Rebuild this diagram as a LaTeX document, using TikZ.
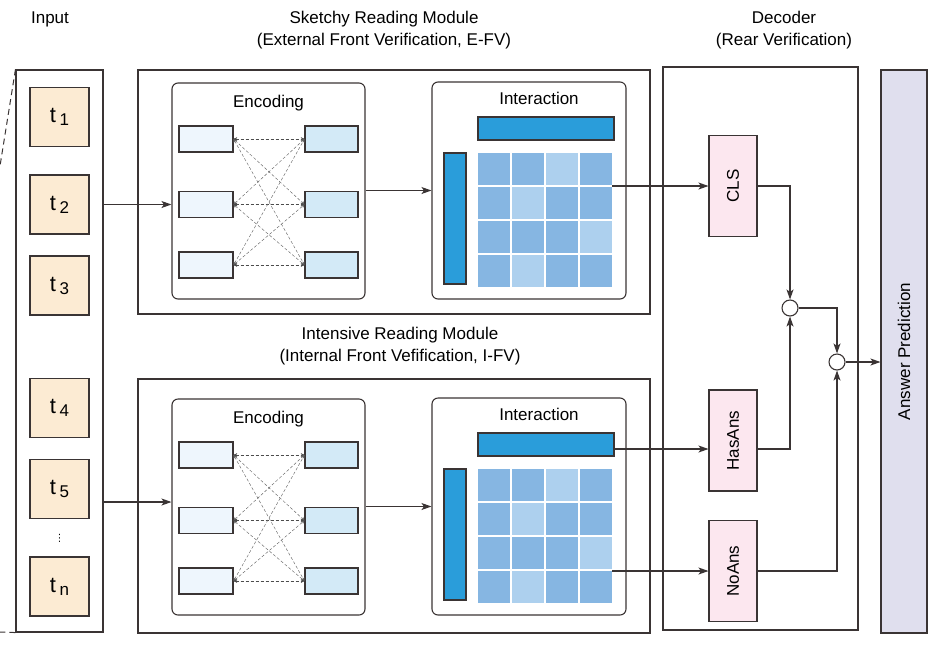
\documentclass[tikz,border=0pt]{standalone}
\usepackage{fontspec}
\setmainfont{Liberation Sans}
\newfontfamily\dejavu{DejaVu Sans}
\usetikzlibrary{arrows.meta}

\definecolor{linec}{HTML}{3A3434}
\definecolor{tokfill}{HTML}{FCEBD3}
\definecolor{encl}{HTML}{EEF6FD}
\definecolor{encr}{HTML}{D3EAF7}
\definecolor{barblue}{HTML}{2A9DDA}
\definecolor{celldark}{HTML}{86B6E2}
\definecolor{celllight}{HTML}{ADD0EE}
\definecolor{pinkbox}{HTML}{FCE7EF}
\definecolor{lavender}{HTML}{E0DFEE}

\tikzset{
  frame/.style={draw=linec, line width=1.1pt, inner sep=0pt},
  roundframe/.style={frame, rounded corners=6pt},
  tok/.style={frame, fill=tokfill, minimum width=59pt, minimum height=59pt,
    font=\fontsize{22}{22}\selectfont},
  encleft/.style={frame, fill=encl, minimum width=54pt, minimum height=26pt},
  encright/.style={frame, fill=encr, minimum width=53pt, minimum height=26pt},
  bar/.style={frame, fill=barblue},
  dec/.style={frame, fill=pinkbox, minimum width=48pt, minimum height=101pt},
  junction/.style={circle, draw=linec, line width=1.1pt, fill=white, minimum size=16pt, inner sep=0pt},
  arr/.style={draw=linec, line width=1.1pt, -{Stealth[length=10pt,width=7pt,inset=2.5pt]}},
  cross/.style={draw=black!60, line width=0.45pt, dash pattern=on 3pt off 2pt,
    {Stealth[length=3.5pt,width=3.5pt]}-{Stealth[length=3.5pt,width=3.5pt]}},
  straight/.style={cross, draw=black!70, line width=0.6pt},
}

\newcommand{\tlab}[1]{t\,\raisebox{-3pt}{\fontsize{17}{17}\selectfont #1}}

\begin{document}
\begin{tikzpicture}[x=1pt, y=-1pt, font=\fontsize{17}{22.5}\selectfont]
\useasboundingbox (0,0) rectangle (949,646);

% titles
\node (intitle) at (50,19) {Input};
\node[align=center] (sktitle) at (384,30) {Sketchy Reading Module\\(External Front Verification, E-FV)};
\node[align=center] (irtitle) at (400,346) {Intensive Reading Module\\(Internal Front Vefification, I-FV)};
\node[align=center] (dectitle) at (784,30) {Decoder\\(Rear Verification)};

% input column
\node[frame, minimum width=87pt, minimum height=562pt] (inbox) at (59.5,351) {};
\node[tok] (t1) at (59.5,117) {\tlab{1}};
\node[tok] (t2) at (59.5,204.5) {\tlab{2}};
\node[tok] (t3) at (59.5,285.5) {\tlab{3}};
\node[tok] (t4) at (59.5,408) {\tlab{4}};
\node[tok] (t5) at (59.5,489) {\tlab{5}};
\node (vdots) at (59.5,538) {\dejavu\fontsize{10}{10}\selectfont ⋮};
\node[tok] (tn) at (59.5,586.5) {\tlab{n}};
\coordinate (zoomtop) at (0,166);
\coordinate (zoombot) at (0,632);
\draw[linec, dash pattern=on 6pt off 4pt, line width=1pt] (inbox.north west) -- (zoomtop);
\draw[linec, dash pattern=on 6pt off 4pt, line width=1pt] (inbox.south west) -- (zoombot);

% the two reading modules
\node[frame, minimum width=512pt, minimum height=244pt] (skm) at (394,192) {};
\node[frame, minimum width=512pt, minimum height=254pt] (irm) at (394,506) {};

\foreach \m/\dy in {1/0, 2/316}{
  \node[roundframe, minimum width=193pt, minimum height=216pt] (enc\m) at (268.5,{191+\dy}) {};
  \node (enclab\m) at (268.5,{103+\dy}) {Encoding};
  \foreach \i/\y in {1/139, 2/204.5, 3/265}{
    \node[encleft] (l\m\i) at (206,{\y+\dy}) {};
    \node[encright] (r\m\i) at (331.5,{\y+\dy}) {};
  }
  \foreach \i in {1,2,3}{
    \foreach \j in {1,2,3}{
      \draw[cross] (l\m\i.east) -- (r\m\j.west);
    }
    \draw[straight] (l\m\i.east) -- (r\m\i.west);
  }
  \node[roundframe, minimum width=194pt, minimum height=217pt] (int\m) at (529,{190.5+\dy}) {};
  \node (intlab\m) at (539,{98+\dy}) {Interaction};
  \node[bar, minimum width=136pt, minimum height=23pt] (hbar\m) at (546,{128.5+\dy}) {};
  \node[bar, minimum width=22pt, minimum height=131pt] (vbar\m) at (455,{218.5+\dy}) {};
  \node[inner sep=0pt, minimum width=134pt, minimum height=134pt] (grid\m) at (545,{220+\dy}) {};
  \foreach \r in {0,...,3}{
    \foreach \c in {0,...,3}{
      \fill[celldark] ({478+34*\c},{153+34*\r+\dy}) rectangle ++(32,32);
    }
  }
  \foreach \r/\c in {0/2, 1/1, 2/3, 3/1}{
    \fill[celllight] ({478+34*\c},{153+34*\r+\dy}) rectangle ++(32,32);
  }
  \draw[arr] (enc\m.east |- int\m.west) -- (int\m.west);
}
\draw[arr] (inbox.east |- t2) -- (enc1.west |- t2);
\draw[arr] (inbox.east |- t5) ++(0,13) coordinate (in5) -- (in5 -| enc2.west);

% decoder
\node[frame, minimum width=195pt, minimum height=563pt] (decbox) at (760.5,348.5) {};
\node[dec] (cls) at (733,186) {\rotatebox{90}{CLS}};
\node[dec] (has) at (733,440.5) {\rotatebox{90}{HasAns}};
\node[dec] (noans) at (733,571) {\rotatebox{90}{NoAns}};
\node[junction] (j1) at (790,308) {};
\node[junction] (j2) at (837,362) {};
\node[frame, fill=lavender, minimum width=46pt, minimum height=563pt] (ans) at (904,351.5) {};
\node[rotate=90] (anslab) at (ans.center) {Answer Prediction};

\draw[arr] (grid1.east |- cls.west) -- (cls.west);
\draw[arr] (hbar2.east) ++(0,4.5) coordinate (h2) -- (h2 -| has.west);
\draw[arr] (grid2.east |- noans.west) -- (noans.west);

\draw[arr] (cls.east) -| (j1.north);
\draw[arr] (has.east |- h2) -| (j1.south);
\draw[arr] (j1.east) -| (j2.north);
\draw[arr] (noans.east) -| (j2.south);
\draw[arr] (j2.east) -- (ans.west |- j2.east);
\end{tikzpicture}
\end{document}
